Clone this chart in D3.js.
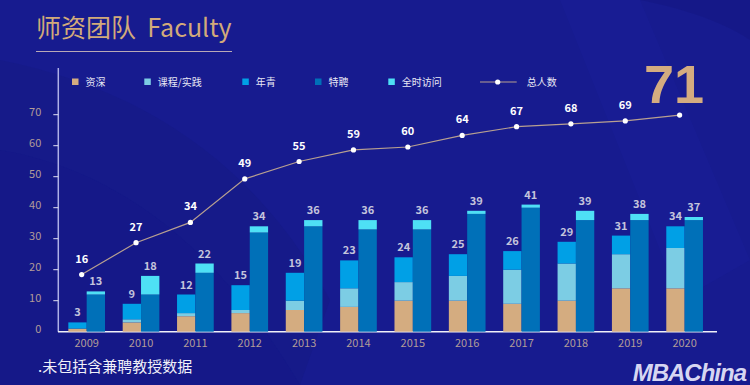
<!DOCTYPE html>
<html>
<head>
<meta charset="utf-8">
<script src="https://cdn.jsdelivr.net/npm/d3@7"></script>
<style>
  html, body { margin: 0; padding: 0; background: #171b8f; }
  svg { display: block; }
  text { font-family: "Noto Sans CJK SC", "Noto Sans", sans-serif; }
</style>
</head>
<body>
<svg id="chart" width="750" height="385"></svg>
<script>
// data
const years = ["2009","2010","2011","2012","2013","2014","2015","2016","2017","2018","2019","2020"];
const senior   = [1, 3, 5, 6, 7, 8, 10, 10, 9, 10, 14, 14];   // 资深
const practice = [0, 1, 1, 1, 3, 6, 6, 8, 11, 12, 11, 13];    // 课程/实践
const young    = [2, 5, 6, 8, 9, 9, 8, 7, 6, 7, 6, 7];        // 年青
const special  = [12, 12, 19, 32, 34, 33, 33, 38, 40, 36, 36, 36]; // 特聘
const visiting = [1, 6, 3, 2, 2, 3, 3, 1, 1, 3, 2, 1];        // 全时访问
const total    = [16, 27, 34, 49, 55, 59, 60, 64, 67, 68, 69, 71]; // 总人数
const yTicks   = [0, 10, 20, 30, 40, 50, 60, 70];

const colors = {
  senior: "#d4ac80", practice: "#7ccde4", young: "#00a0e6",
  special: "#0070b8", visiting: "#4ee0f5"
};

const svg = d3.select("#chart");

// background shading
const bg = svg.append("g");
bg.append("rect").attr("width", 750).attr("height", 385).attr("fill", "#171b8f");
bg.append("path").attr("d", "M0,150 C120,170 220,250 300,385 L0,385 Z").attr("fill", "#141883").attr("opacity", 0.6);
bg.append("path").attr("d", "M0,60 C150,90 260,170 330,300 L300,385 C220,250 120,170 0,150 Z").attr("fill", "#15197f").attr("opacity", 0.35);
bg.append("path").attr("d", "M560,0 L640,0 L750,260 L680,300 Z").attr("fill", "#1a1f9a").attr("opacity", 0.35);
bg.append("path").attr("d", "M640,0 L750,0 L750,40 C720,20 680,8 640,0 Z").attr("fill", "#141883").attr("opacity", 0.6);

// title
svg.append("text").attr("x", 36).attr("y", 37)
  .attr("fill", "#d2aa7a").style("font-size", "25px").style("white-space", "pre")
  .text("师资团队  Faculty");
svg.append("line").attr("x1", 36).attr("x2", 232).attr("y1", 51.5).attr("y2", 51.5)
  .attr("stroke", "#b9a9b6").attr("stroke-width", 1);

// scales
const x = d3.scaleBand().domain(years).range([58, 713.3]).paddingInner(0.325).paddingOuter(0.19);
const y = d3.scaleLinear().domain([0, 70]).range([331.7, 114.7]);
// the total line sits on its own (hidden) scale
const yLine = d3.scaleLinear().domain([0, 70]).range([321, 118]);
const bw = x.bandwidth() / 2;

// y axis
const yAxis = svg.append("g").attr("transform", "translate(58.3,0)");
yAxis.append("line").attr("y1", 68).attr("y2", 331.7).attr("stroke", "#aeb0e6").attr("stroke-width", 1.5);
yAxis.selectAll(".tick").data(yTicks.filter(d => d > 0)).enter().append("line")
  .attr("x1", -5).attr("x2", 0).attr("y1", d => y(d)).attr("y2", d => y(d))
  .attr("stroke", "#e0e0f0").attr("stroke-width", 1);
yAxis.selectAll(".lbl").data(yTicks).enter().append("text")
  .attr("x", -17).attr("y", d => y(d) + 1)
  .attr("text-anchor", "end").attr("fill", "#b29c98").style("font-size", "11px")
  .text(d => d);

// x axis
svg.append("line").attr("x1", 58).attr("x2", 717).attr("y1", 331.7).attr("y2", 331.7)
  .attr("stroke", "#f0f0f8").attr("stroke-width", 1.5);
svg.selectAll(".year").data(years).enter().append("text")
  .attr("x", d => x(d) + x.bandwidth() / 2).attr("y", 347)
  .attr("text-anchor", "middle").attr("fill", "#b29c98").style("font-size", "11px")
  .text(d => d);

// bars
const leftKeys = [["senior", senior], ["practice", practice], ["young", young]];
const rightKeys = [["special", special], ["visiting", visiting]];
const barsG = svg.append("g");

function drawStack(keys, offset) {
  years.forEach((yr, i) => {
    let acc = 0;
    keys.forEach(([k, arr]) => {
      const v = arr[i];
      if (v > 0) {
        barsG.append("rect")
          .attr("x", x(yr) + offset).attr("width", bw)
          .attr("y", y(acc + v)).attr("height", y(acc) - y(acc + v))
          .attr("fill", colors[k]);
      }
      acc += v;
    });
    barsG.append("text")
      .attr("x", x(yr) + offset + bw / 2).attr("y", y(acc) - 6)
      .attr("text-anchor", "middle").attr("fill", "#c4c4dc")
      .style("font-size", "11px").style("font-weight", "bold")
      .text(acc);
  });
}
drawStack(leftKeys, 0);
drawStack(rightKeys, bw);

// total line (points sit a little left of the pair centre, as in the original)
const cx = d => x(d) + x.bandwidth() / 2 - 5;
const line = d3.line().x((d, i) => cx(years[i])).y(d => yLine(d));
svg.append("path").datum(total).attr("d", line)
  .attr("fill", "none").attr("stroke", "#b8a090").attr("stroke-width", 1.2);
svg.selectAll(".pt").data(total).enter().append("circle")
  .attr("cx", (d, i) => cx(years[i])).attr("cy", d => yLine(d)).attr("r", 2.6)
  .attr("fill", "#ffffff");
svg.selectAll(".ptl").data(total.slice(0, -1)).enter().append("text")
  .attr("x", (d, i) => cx(years[i])).attr("y", d => yLine(d) - 12)
  .attr("text-anchor", "middle").attr("fill", "#ffffff")
  .style("font-size", "11px").style("font-weight", "bold")
  .text(d => d);

// big total number
svg.append("text").attr("x", 674).attr("y", 103)
  .attr("text-anchor", "middle").attr("fill", "#d4ac80")
  .style("font-family", "'Liberation Sans', Arial, sans-serif")
  .style("font-size", "54px").style("font-weight", "bold")
  .text(total[total.length - 1]);

// legend
const legend = [
  ["资深", colors.senior, 72], ["课程/实践", colors.practice, 144.3],
  ["年青", colors.young, 242.3], ["特聘", colors.special, 315],
  ["全时访问", colors.visiting, 388.3]
];
const lg = svg.append("g");
legend.forEach(([name, c, lx]) => {
  lg.append("rect").attr("x", lx).attr("y", 78.5).attr("width", 6.5).attr("height", 6.5).attr("fill", c);
  lg.append("text").attr("x", lx + 13.5).attr("y", 85.5).attr("fill", "#e8e8f4")
    .style("font-size", "10px").text(name);
});
lg.append("line").attr("x1", 480).attr("x2", 516.7).attr("y1", 82).attr("y2", 82)
  .attr("stroke", "#b8a090").attr("stroke-width", 1.2);
lg.append("circle").attr("cx", 497.7).attr("cy", 82).attr("r", 2.6).attr("fill", "#ffffff");
lg.append("text").attr("x", 526.7).attr("y", 85.5).attr("fill", "#e8e8f4")
  .style("font-size", "10px").text("总人数");

// footnote
svg.append("text").attr("x", 38).attr("y", 372).attr("fill", "#f0f0f8")
  .style("font-size", "15px").text(".未包括含兼聘教授数据");

// logo
svg.append("text").attr("x", 746).attr("y", 381).attr("text-anchor", "end")
  .attr("fill", "#d6d6f2").style("font-family", "'Liberation Sans', Arial, sans-serif")
  .style("font-size", "24px").style("font-weight", "bold").style("font-style", "italic")
  .style("letter-spacing", "-1px")
  .text("MBAChina");
</script>
</body>
</html>
